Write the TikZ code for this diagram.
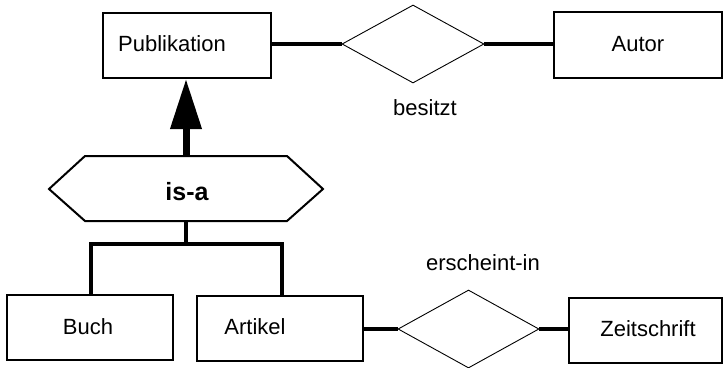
\documentclass[tikz,border=0pt]{standalone}
\usepackage{fontspec}
\setmainfont{Liberation Sans}
\usetikzlibrary{shapes.geometric,arrows.meta}

\tikzset{
  entity/.style={draw, line width=2pt, rectangle, inner sep=0pt},
  relation/.style={draw, line width=0.9pt, diamond, inner sep=0pt},
  conn/.style={line width=3.4pt},
  txt/.style={inner sep=0pt, font=\fontsize{22}{26}\selectfont},
  boldtxt/.style={inner sep=0pt, font=\fontsize{25}{30}\selectfont\bfseries},
}

\begin{document}
\begin{tikzpicture}[x=1pt, y=-1pt]
\useasboundingbox (0,0) rectangle (727,367);

% entity boxes
\node[entity, minimum width=168pt, minimum height=65pt] (pub) at (187,45.5) {};
\node[txt] (pubT) at (172,44) {Publikation};
\node[entity, minimum width=168pt, minimum height=66pt] (autor) at (638,45) {};
\node[txt] (autorT) at (638,44) {Autor};
\node[entity, minimum width=166pt, minimum height=65pt] (buch) at (90,327.5) {};
\node[txt] (buchT) at (88,327) {Buch};
\node[entity, minimum width=166pt, minimum height=65pt] (artikel) at (280,328.5) {};
\node[txt] (artikelT) at (255,327) {Artikel};
\node[entity, minimum width=153pt, minimum height=65pt] (zeit) at (645.5,330.5) {};
\node[txt] (zeitT) at (648,329) {Zeitschrift};

% relationships
\node[relation, minimum width=142pt, minimum height=78pt] (besitzt) at (413,44) {};
\node[txt] (besitztT) at (425,108) {besitzt};
\node[relation, minimum width=141pt, minimum height=78pt] (ersch) at (468.5,329) {};
\node[txt] (erschT) at (483,263) {erscheint-in};

% is-a hexagon
\coordinate (hexN) at (186,156);
\coordinate (hexS) at (186,221);
\draw[line width=2pt, line join=miter]
  (49,189) -- (85,156) -- (287,156) -- (323,189) -- (287,221) -- (85,221) -- cycle;
\node[boldtxt] (isa) at (187,192) {is-a};

% generalisation arrow
\draw[line width=7pt, -{Triangle[length=50pt, width=30pt]}] (hexN) -- (pub.south -| hexN);

% sub-type tree
\coordinate (fork) at (186,244);
\draw[conn] (hexS) -- (fork);
\draw[conn] (buch.north -| 91,0) |- (fork) -| (artikel.north -| 282,0);

% relationship connectors
\draw[conn] (pub.east |- besitzt.west) -- (besitzt.west);
\draw[conn] (besitzt.east) -- (autor.west |- besitzt.east);
\draw[conn] (artikel.east |- ersch.west) -- (ersch.west);
\draw[conn] (ersch.east) -- (zeit.west |- ersch.east);
\end{tikzpicture}
\end{document}
